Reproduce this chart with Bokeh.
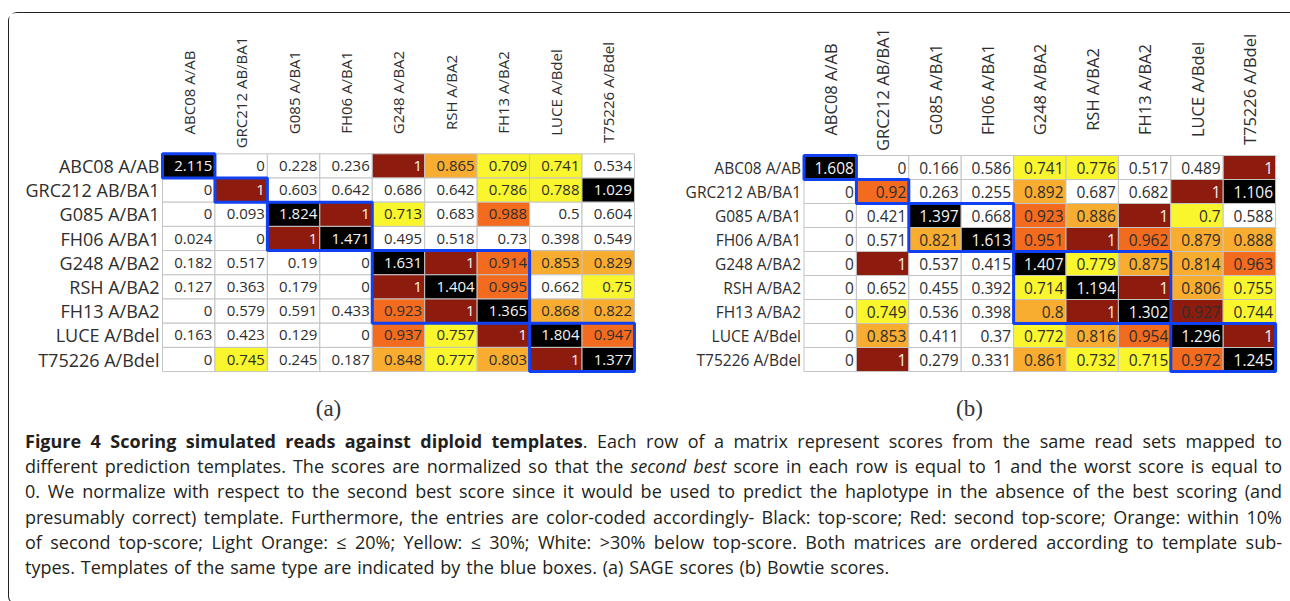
import math
from bokeh.plotting import figure
from bokeh.models import ColumnDataSource, Range1d, Div
from bokeh.layouts import row, column
from bokeh.embed import file_html
from bokeh.resources import INLINE
from bokeh.core.properties import value

# ---------------- data ----------------
templates = ["ABC08 A/AB", "GRC212 AB/BA1", "G085 A/BA1", "FH06 A/BA1",
             "G248 A/BA2", "RSH A/BA2", "FH13 A/BA2", "LUCE A/Bdel", "T75226 A/Bdel"]

sage_scores = [
    [2.115, 0, 0.228, 0.236, 1, 0.865, 0.709, 0.741, 0.534],
    [0, 1, 0.603, 0.642, 0.686, 0.642, 0.786, 0.788, 1.029],
    [0, 0.093, 1.824, 1, 0.713, 0.683, 0.988, 0.5, 0.604],
    [0.024, 0, 1, 1.471, 0.495, 0.518, 0.73, 0.398, 0.549],
    [0.182, 0.517, 0.19, 0, 1.631, 1, 0.914, 0.853, 0.829],
    [0.127, 0.363, 0.179, 0, 1, 1.404, 0.995, 0.662, 0.75],
    [0, 0.579, 0.591, 0.433, 0.923, 1, 1.365, 0.868, 0.822],
    [0.163, 0.423, 0.129, 0, 0.937, 0.757, 1, 1.804, 0.947],
    [0, 0.745, 0.245, 0.187, 0.848, 0.777, 0.803, 1, 1.377],
]
# k black, r red, o orange, l light orange, y yellow, w white, d red (dark text)
sage_classes = ["kwwwrlyyw", "wrwwwwyyk", "wwkrywoww", "wwrkwwwww", "wwwwkroll",
                "wwwwrkowy", "wwwworkll", "wwwwoyrko", "wywwlylrk"]

bowtie_scores = [
    [1.608, 0, 0.166, 0.586, 0.741, 0.776, 0.517, 0.489, 1],
    [0, 0.92, 0.263, 0.255, 0.892, 0.687, 0.682, 1, 1.106],
    [0, 0.421, 1.397, 0.668, 0.923, 0.886, 1, 0.7, 0.588],
    [0, 0.571, 0.821, 1.613, 0.951, 1, 0.962, 0.879, 0.888],
    [0, 1, 0.537, 0.415, 1.407, 0.779, 0.875, 0.814, 0.963],
    [0, 0.652, 0.455, 0.392, 0.714, 1.194, 1, 0.806, 0.755],
    [0, 0.749, 0.536, 0.398, 0.8, 1, 1.302, 0.927, 0.744],
    [0, 0.853, 0.411, 0.37, 0.772, 0.816, 0.954, 1.296, 1],
    [0, 1, 0.279, 0.331, 0.861, 0.732, 0.715, 0.972, 1.245],
]
bowtie_classes = ["kwwwyywwr", "wowwlwwrk", "wwkwolryw", "wwlkoroll", "wrwwkyllo",
                  "wwwwykrly", "wywwlrkdy", "wlwwylokr", "wrwwlyyok"]

panel_labels = ["(a)", "(b)"]

caption_lines = [
    "<b>Figure 4 Scoring simulated reads against diploid templates</b>. Each row of a matrix represent scores from the same read sets mapped to",
    "different prediction templates. The scores are normalized so that the <i>second best</i> score in each row is equal to 1 and the worst score is equal to",
    "0. We normalize with respect to the second best score since it would be used to predict the haplotype in the absence of the best scoring (and",
    "presumably correct) template. Furthermore, the entries are color-coded accordingly- Black: top-score; Red: second top-score; Orange: within 10%",
    "of second top-score; Light Orange: \u2264 20%; Yellow: \u2264 30%; White: &gt;30% below top-score. Both matrices are ordered according to template sub-",
    "types. Templates of the same type are indicated by the blue boxes. (a) SAGE scores (b) Bowtie scores.",
]

# ---------------- styles ----------------
FILL = {"k": "#000000", "r": "#8e1c0e", "d": "#8e1c0e", "o": "#f26b1f",
        "l": "#f8ac30", "y": "#f9f62e", "w": "#ffffff"}
TXT = {"k": "#f4f4f4", "r": "#f4f4f4"}
DARK = "#2e2e2e"
BLUE = "#1040f2"
FONT = value("Open Sans")
PAGE_TOP = 13
FIG_H = 415


def panel(scores, classes, label, width, page_left, grid_left, grid_top, cw, ch,
          row_fs, col_fs, num_fs, col_center_y, label_xy, page_top=PAGE_TOP, height=FIG_H):
    n = len(templates)
    x_range = Range1d((page_left - grid_left) / cw, (page_left + width - grid_left) / cw)
    y_range = Range1d((page_top + height - grid_top) / ch, (page_top - grid_top) / ch)
    p = figure(width=width, height=height, x_range=x_range, y_range=y_range,
               output_backend="svg", toolbar_location=None, min_border=0,
               x_axis_location=None, y_axis_location=None, outline_line_color=None,
               background_fill_color="white", border_fill_color="white")
    p.grid.visible = False

    xs, ys, fills, txt, tcol = [], [], [], [], []
    for i in range(n):
        for j in range(n):
            c = classes[i][j]
            xs.append(j)
            ys.append(i)
            fills.append(FILL[c])
            txt.append(f"{scores[i][j]:g}")
            tcol.append(TXT.get(c, DARK))
    src = ColumnDataSource(dict(x=[v + 0.5 for v in xs], y=[v + 0.5 for v in ys],
                                xr=[v + 1 - 2.5 / cw for v in xs], fill=fills,
                                txt=txt, tcol=tcol))
    p.rect(x="x", y="y", width=1, height=1, source=src, fill_color="fill",
           line_color="#c4c4c4", line_width=1)
    p.text(x="xr", y="y", text="txt", source=src, text_color="tcol",
           text_align="right", text_baseline="middle", text_font=FONT,
           text_font_size=f"{num_fs}px")

    # row labels and column labels
    idx = list(range(n))
    p.text(x=[-3.0 / cw] * n, y=[i + 0.5 for i in idx], text=templates,
           text_align="right", text_baseline="middle", text_font=FONT,
           text_font_size=f"{row_fs}px", text_color=DARK)
    p.text(x=[i + 0.5 for i in idx], y=[(col_center_y - grid_top) / ch] * n,
           text=templates, angle=math.pi / 2, text_align="center",
           text_baseline="middle", text_font=FONT, text_font_size=f"{col_fs}px",
           text_color=DARK)

    # blue boxes around templates of the same type
    groups = [t.split(" ")[1] for t in templates]
    starts, ends = [], []
    s = 0
    for i in range(1, n + 1):
        if i == n or groups[i] != groups[s]:
            starts.append(s)
            ends.append(i)
            s = i
    p.quad(left=starts, right=ends, top=starts, bottom=ends, fill_color=None,
           line_color=BLUE, line_width=3)

    p.text(x=[(label_xy[0] - grid_left) / cw], y=[(label_xy[1] - grid_top) / ch],
           text=[label], text_align="center", text_baseline="middle",
           text_font=value("Liberation Serif"), text_font_size="23px",
           text_color="#333333")
    return p


pA = panel(sage_scores, sage_classes, panel_labels[0], width=636, page_left=9,
           grid_left=162, grid_top=153.3, cw=52.44, ch=24.2,
           row_fs=18, col_fs=15, num_fs=15, col_center_y=92, label_xy=(328, 408))
pB = panel(bowtie_scores, bowtie_classes, panel_labels[1], width=644, page_left=645,
           grid_left=803.5, grid_top=155, cw=52.4, ch=24.0,
           row_fs=15.5, col_fs=16.5, num_fs=15.5, col_center_y=89, label_xy=(969, 408))

html = ['<div style="margin-left:11px;margin-top:-4px;width:1257px;font-family:\'Open Sans\';'
        'font-size:18px;line-height:25.2px;color:#231f20;">']
for k, ln in enumerate(caption_lines):
    last = k == len(caption_lines) - 1
    al = "left" if last else "justify"
    ws = "word-spacing:1.2px;" if last else ""
    html.append(f'<div style="text-align:{al};text-align-last:{al};{ws}">{ln}</div>')
html.append("</div>")
cap = Div(text="".join(html), width=1280, height=166)

layout = column(row(pA, pB), cap,
                styles={"border": "1px solid #222", "border-right": "none",
                        "border-radius": "9px 0 0 9px", "background": "white",
                        "margin-left": "8px", "margin-top": "12px"})

open("out.html", "w").write(file_html(layout, INLINE))
